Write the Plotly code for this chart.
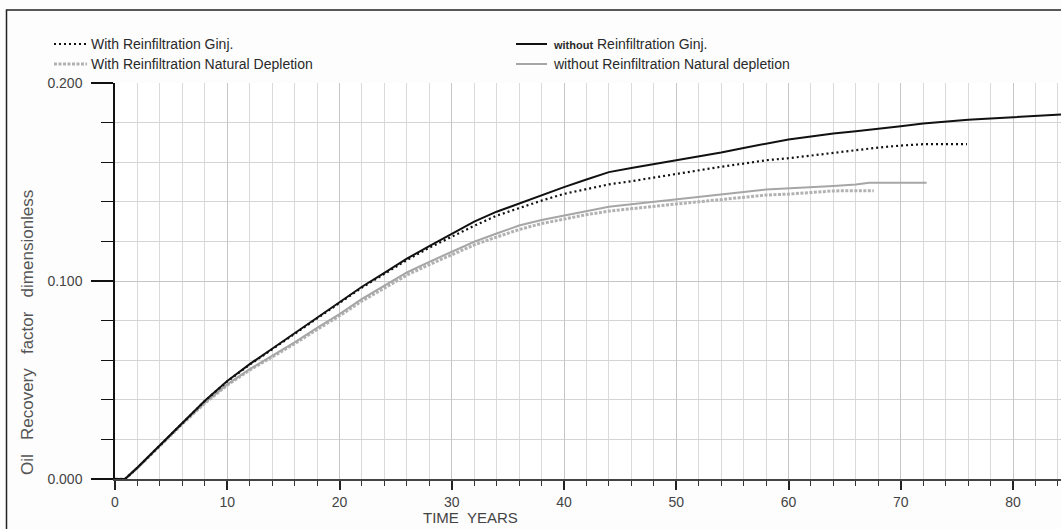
import plotly.graph_objects as go

# Oil recovery factor vs. time (years), four simulation cases
t_without_ginj = [0, 0.9, 2, 4, 6, 8, 10, 12, 14, 16, 18, 20, 22, 24, 26, 28, 30, 32, 34, 36,
                  38, 40, 42, 44, 46, 48, 50, 52, 54, 56, 58, 60, 62, 64, 66, 68, 70, 72,
                  74, 76, 78, 80, 82, 84, 86]
rf_without_ginj = [0, 0, 0.0058, 0.0172, 0.0285, 0.0395, 0.0495, 0.0580, 0.0658, 0.0736,
                   0.0815, 0.0894, 0.0971, 0.1041, 0.1113, 0.1176, 0.1240, 0.1300, 0.1350,
                   0.1392, 0.1432, 0.1474, 0.1513, 0.1550, 0.1571, 0.1590, 0.1610, 0.1630,
                   0.1649, 0.1672, 0.1694, 0.1715, 0.1730, 0.1745, 0.1756, 0.1767, 0.1781,
                   0.1795, 0.1805, 0.1815, 0.1821, 0.1827, 0.1834, 0.1840, 0.1846]

t_with_ginj = [0, 0.9, 2, 4, 6, 8, 10, 12, 14, 16, 18, 20, 22, 24, 26, 28, 30, 32, 34, 36,
               38, 40, 42, 44, 46, 48, 50, 52, 54, 56, 58, 60, 62, 64, 66, 68, 70, 72, 74, 75.9]
rf_with_ginj = [0, 0, 0.0057, 0.0171, 0.0284, 0.0394, 0.0493, 0.0578, 0.0655, 0.0733,
                0.0812, 0.0890, 0.0967, 0.1036, 0.1106, 0.1168, 0.1224, 0.1279, 0.1330,
                0.1369, 0.1406, 0.1440, 0.1464, 0.1488, 0.1504, 0.1523, 0.1540, 0.1560,
                0.1577, 0.1593, 0.1610, 0.1620, 0.1634, 0.1647, 0.1661, 0.1674, 0.1684,
                0.1691, 0.1691, 0.1691]

t_without_nat = [0, 0.9, 2, 4, 6, 8, 10, 12, 14, 16, 18, 20, 22, 24, 26, 28, 30, 32, 34, 36,
                 38, 40, 42, 44, 46, 48, 50, 52, 54, 56, 58, 60, 62, 64, 66, 67.2, 72.3]
rf_without_nat = [0, 0, 0.0057, 0.0170, 0.0280, 0.0385, 0.0478, 0.0555, 0.0622, 0.0690,
                  0.0763, 0.0833, 0.0910, 0.0978, 0.1043, 0.1097, 0.1148, 0.1198, 0.1240,
                  0.1280, 0.1308, 0.1330, 0.1353, 0.1375, 0.1388, 0.1400, 0.1411, 0.1422,
                  0.1435, 0.1449, 0.1462, 0.1467, 0.1474, 0.1480, 0.1488, 0.1496, 0.1496]

t_with_nat = [0, 0.9, 2, 4, 6, 8, 10, 12, 14, 16, 18, 20, 22, 24, 26, 28, 30, 32, 34, 36,
              38, 40, 42, 44, 46, 48, 50, 52, 54, 56, 58, 60, 62, 64, 66, 67.6]
rf_with_nat = [0, 0, 0.0056, 0.0168, 0.0278, 0.0382, 0.0474, 0.0550, 0.0616, 0.0683,
               0.0755, 0.0824, 0.0899, 0.0966, 0.1030, 0.1083, 0.1133, 0.1182, 0.1222,
               0.1260, 0.1290, 0.1313, 0.1335, 0.1353, 0.1366, 0.1378, 0.1389, 0.1400,
               0.1412, 0.1423, 0.1434, 0.1439, 0.1447, 0.1455, 0.1456, 0.1456]

legend_left = ["With Reinfiltration Ginj.", "With Reinfiltration Natural Depletion"]
legend_right = ["<span style='font-size:11px'><b>without</b></span> Reinfiltration Ginj.",
                "without Reinfiltration Natural depletion"]
x_title = "TIME  YEARS"
y_title = "Oil   Recovery   factor   dimensionless"

W, H = 1061, 529
L, R, T, B = 115, 0, 83, 50
PW, PH = W - L - R, H - T - B

BLACK = "#111111"
GRAY_SOLID = "#a6a6a6"
GRAY_DOT = "#b2b2b2"
DOT_BLACK = "2px,3px"
DOT_GRAY = "3px,1.5px"
FONT = "Liberation Sans, Arial, sans-serif"


def px(x):
    return (x - L) / PW


def py(y):
    return (H - B - y) / PH


fig = go.Figure()
fig.add_trace(go.Scatter(x=t_with_nat, y=rf_with_nat, mode="lines",
                         line=dict(color=GRAY_DOT, width=3, dash=DOT_GRAY)))
fig.add_trace(go.Scatter(x=t_without_nat, y=rf_without_nat, mode="lines",
                         line=dict(color=GRAY_SOLID, width=2)))
fig.add_trace(go.Scatter(x=t_with_ginj, y=rf_with_ginj, mode="lines",
                         line=dict(color=BLACK, width=2.2, dash=DOT_BLACK)))
fig.add_trace(go.Scatter(x=t_without_ginj, y=rf_without_ginj, mode="lines",
                         line=dict(color=BLACK, width=2)))

shapes = []
# outer frame
shapes.append(dict(type="rect", xref="paper", yref="paper",
                   x0=px(6.5), x1=px(W + 20), y0=py(10), y1=py(H + 20),
                   line=dict(color="#222222", width=1.5), layer="below"))
# legend samples
samples = [
    (54, 87, 44, BLACK, 2.2, DOT_BLACK),
    (54, 87, 64, GRAY_DOT, 3, DOT_GRAY),
    (516, 547, 44, BLACK, 2, "solid"),
    (516, 547, 64, GRAY_SOLID, 2, "solid"),
]
for x0, x1, yy, c, w, d in samples:
    shapes.append(dict(type="line", xref="paper", yref="paper",
                       x0=px(x0), x1=px(x1), y0=py(yy), y1=py(yy),
                       line=dict(color=c, width=w, dash=d)))

annotations = []
for i, txt in enumerate(legend_left):
    annotations.append(dict(text=txt, xref="paper", yref="paper", x=px(89), y=py(44 + 20 * i),
                            xanchor="left", yanchor="middle", showarrow=False,
                            font=dict(family=FONT, size=14, color="#2a2a2a")))
for i, txt in enumerate(legend_right):
    annotations.append(dict(text=txt, xref="paper", yref="paper", x=px(551), y=py(44 + 20 * i),
                            xanchor="left", yanchor="middle", showarrow=False,
                            font=dict(family=FONT, size=14, color="#2a2a2a")))
annotations.append(dict(text=x_title, xref="paper", yref="paper", x=px(470), y=py(517),
                        xanchor="center", yanchor="middle", showarrow=False,
                        font=dict(family=FONT, size=15, color="#444444")))
annotations.append(dict(text=y_title, xref="paper", yref="paper", x=px(27), y=py(333),
                        xanchor="center", yanchor="middle", showarrow=False, textangle=-90,
                        font=dict(family=FONT, size=17, color="#555555")))

fig.update_layout(
    width=W, height=H,
    margin=dict(l=L, r=R, t=T, b=B, pad=0),
    paper_bgcolor="#fdfdfd", plot_bgcolor="#ffffff",
    showlegend=False,
    shapes=shapes, annotations=annotations,
    xaxis=dict(range=[0, PW / 11.225], dtick=10, tick0=0,
               showline=True, linecolor="#444444", linewidth=2,
               ticks="outside", ticklen=9, tickwidth=2, tickcolor="#222222",
               showgrid=True, gridcolor="#c6c6c6", gridwidth=1.3,
               zeroline=False,
               tickfont=dict(family=FONT, size=14, color="#444444"),
               minor=dict(dtick=2, ticks="outside", ticklen=5, tickwidth=1,
                          tickcolor="#333333", showgrid=True, gridcolor="#dadada",
                          gridwidth=1)),
    yaxis=dict(range=[0, 0.2], dtick=0.1, tick0=0, tickformat=".3f",
               showline=True, linecolor="#111111", linewidth=1.5,
               ticks="outside", ticklen=22, tickwidth=2, tickcolor="#111111",
               ticklabelstandoff=6,
               showgrid=True, gridcolor="#c6c6c6", gridwidth=1.3,
               zeroline=False,
               tickfont=dict(family=FONT, size=14, color="#444444"),
               minor=dict(dtick=0.02, ticks="outside", ticklen=12, tickwidth=1,
                          tickcolor="#111111", showgrid=True, gridcolor="#d4d4d4",
                          gridwidth=1)),
)

fig.write_html("out.html")
